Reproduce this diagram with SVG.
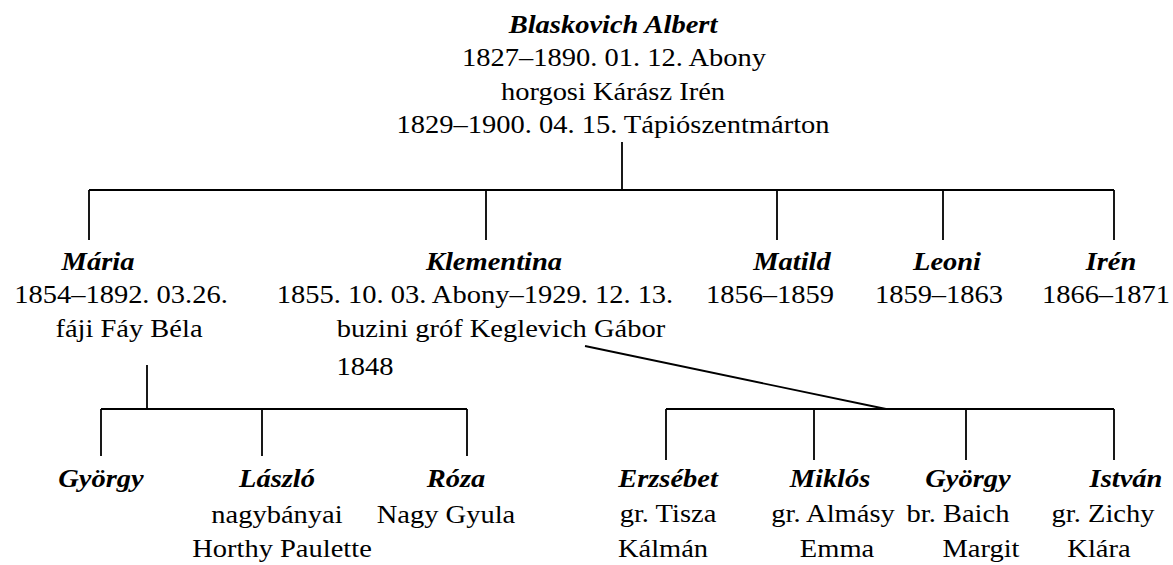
<svg xmlns="http://www.w3.org/2000/svg" width="1173" height="565" viewBox="0 0 1173 565">
<style>
.t{font-family:"Liberation Serif","Times New Roman",serif;font-size:25px;fill:#000;text-anchor:middle}
.b{font-weight:bold;font-style:italic}
.c path{stroke:#000;stroke-width:1.8;fill:none}
</style>
<rect width="1173" height="565" fill="#fff"/>
<g class="c" id="connectors">
<path d="M622,142 V190"/>
<path d="M89,190 H1114"/>
<path d="M89,190 V240 M486,190 V240 M777,190 V240 M943,190 V240 M1114,190 V240"/>
<path d="M147,365 V409"/>
<path d="M101,409 H467"/>
<path d="M101,409 V456 M262,409 V456 M467,409 V456"/>
<path d="M585,346 L886,409"/>
<path d="M666,409 H1114"/>
<path d="M666,409 V460 M814,409 V460 M966,409 V460 M1114,409 V460"/>
</g>
<g id="albert">
<text class="t b" transform="translate(613,33) scale(1.14,1)">Blaskovich Albert</text>
<text class="t" transform="translate(614,66) scale(1.14,1)">1827–1890. 01. 12. Abony</text>
<text class="t" transform="translate(613,100) scale(1.14,1)">horgosi Kárász Irén</text>
<text class="t" transform="translate(613,133) scale(1.14,1)">1829–1900. 04. 15. Tápiószentmárton</text>
</g>
<g id="maria">
<text class="t b" transform="translate(98,270) scale(1.14,1)">Mária</text>
<text class="t" transform="translate(121,303) scale(1.14,1)">1854–1892. 03.26.</text>
<text class="t" transform="translate(129,337) scale(1.14,1)">fáji Fáy Béla</text>
</g>
<g id="klementina">
<text class="t b" transform="translate(494,270) scale(1.14,1)">Klementina</text>
<text class="t" transform="translate(475,303) scale(1.14,1)">1855. 10. 03. Abony–1929. 12. 13.</text>
<text class="t" transform="translate(501,337) scale(1.14,1)">buzini gróf Keglevich Gábor</text>
<text class="t" transform="translate(365,375) scale(1.14,1)">1848</text>
</g>
<g id="matild">
<text class="t b" transform="translate(792,270) scale(1.14,1)">Matild</text>
<text class="t" transform="translate(770,303) scale(1.14,1)">1856–1859</text>
</g>
<g id="leoni">
<text class="t b" transform="translate(947,270) scale(1.14,1)">Leoni</text>
<text class="t" transform="translate(939,303) scale(1.14,1)">1859–1863</text>
</g>
<g id="iren">
<text class="t b" transform="translate(1111,270) scale(1.14,1)">Irén</text>
<text class="t" transform="translate(1106,303) scale(1.14,1)">1866–1871</text>
</g>
<g id="gyorgy1">
<text class="t b" transform="translate(101,487) scale(1.14,1)">György</text>
</g>
<g id="laszlo">
<text class="t b" transform="translate(277,487) scale(1.14,1)">László</text>
<text class="t" transform="translate(277,523) scale(1.14,1)">nagybányai</text>
<text class="t" transform="translate(282,557) scale(1.14,1)">Horthy Paulette</text>
</g>
<g id="roza">
<text class="t b" transform="translate(456,487) scale(1.14,1)">Róza</text>
<text class="t" transform="translate(446,523) scale(1.14,1)">Nagy Gyula</text>
</g>
<g id="erzsebet">
<text class="t b" transform="translate(668,487) scale(1.14,1)">Erzsébet</text>
<text class="t" transform="translate(668,522) scale(1.14,1)">gr. Tisza</text>
<text class="t" transform="translate(663,557) scale(1.14,1)">Kálmán</text>
</g>
<g id="miklos">
<text class="t b" transform="translate(830,487) scale(1.14,1)">Miklós</text>
<text class="t" transform="translate(833,522) scale(1.14,1)">gr. Almásy</text>
<text class="t" transform="translate(837,557) scale(1.14,1)">Emma</text>
</g>
<g id="gyorgy2">
<text class="t b" transform="translate(968,487) scale(1.14,1)">György</text>
<text class="t" transform="translate(958,522) scale(1.14,1)">br. Baich</text>
<text class="t" transform="translate(981,557) scale(1.14,1)">Margit</text>
</g>
<g id="istvan">
<text class="t b" transform="translate(1126,487) scale(1.14,1)">István</text>
<text class="t" transform="translate(1103,522) scale(1.14,1)">gr. Zichy</text>
<text class="t" transform="translate(1099,557) scale(1.14,1)">Klára</text>
</g>
</svg>
